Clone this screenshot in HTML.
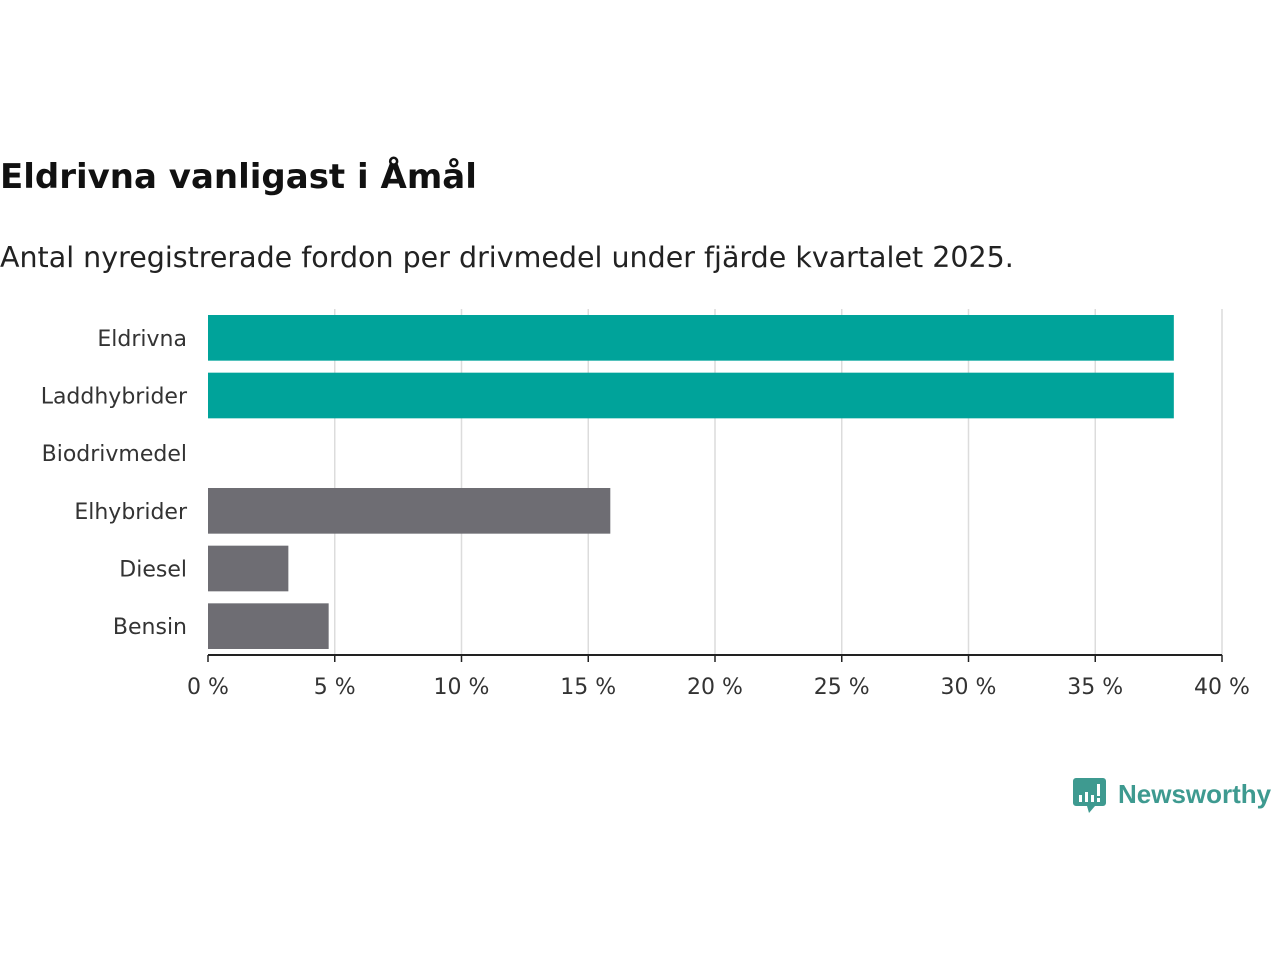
<!DOCTYPE html>
<html><head><meta charset="utf-8"><style>
body{margin:0;background:#fff;width:1280px;height:960px;overflow:hidden;font-family:"DejaVu Sans","Liberation Sans",sans-serif;}
</style></head><body>
<svg width="1280" height="960">
<text x="0" y="188" font-size="34" font-weight="bold" fill="#111">Eldrivna vanligast i Åmål</text>
<text x="0" y="267" font-size="28.5" fill="#222">Antal nyregistrerade fordon per drivmedel under fjärde kvartalet 2025.</text>
<g id="grid"></g>
<g id="bars"></g>
<g id="ylab"></g>
<g id="xax"></g>
<g transform="translate(1073,778)">
<path d="M0,3 a3,3 0 0 1 3,-3 h27 a3,3 0 0 1 3,3 v22 a3,3 0 0 1 -3,3 h-8 l-6,7 l-2,-7 h-11 a3,3 0 0 1 -3,-3z" fill="#3e9a90"/>
<rect x="6" y="17" width="3" height="7" fill="#fff"/><rect x="12" y="14" width="3" height="10" fill="#fff"/><rect x="18" y="17" width="3" height="7" fill="#fff"/><rect x="24" y="6" width="3" height="12" fill="#fff"/><rect x="24" y="20" width="3" height="4" fill="#fff"/>
<text x="45" y="25" font-size="26" fill="#3e9a90" font-family="Liberation Sans, sans-serif" font-weight="bold">Newsworthy</text>
</g>
</svg>
<script>
const categories=["Eldrivna","Laddhybrider","Biodrivmedel","Elhybrider","Diesel","Bensin"];
const values=[38.1,38.1,0,15.87,3.17,4.76];
const colors=["#00a39a","#00a39a","#00a39a","#6e6d73","#6e6d73","#6e6d73"];
const ticks=[0,5,10,15,20,25,30,35,40];
const tickLabels=["0 %","5 %","10 %","15 %","20 %","25 %","30 %","35 %","40 %"];
const NS="http://www.w3.org/2000/svg";
const x0=208,x1=1222,plotTop=309,plotBottom=655;
const xs=v=>x0+(v/40)*(x1-x0);
const step=(plotBottom-plotTop)/categories.length;
const ys=i=>plotTop+i*step;
function mk(t,a,p){const e=document.createElementNS(NS,t);for(const k in a)e.setAttribute(k,a[k]);p.appendChild(e);return e;}
const g=document.getElementById('grid'),b=document.getElementById('bars'),yl=document.getElementById('ylab'),xa=document.getElementById('xax');
ticks.forEach((t,i)=>{
 if(i>0){const l=mk('line',{x1:xs(t),x2:xs(t),y1:plotTop,y2:plotBottom,stroke:'#dcdcdc','stroke-width':1.5},g);
 
 }
 const tk=mk('line',{x1:xs(t),x2:xs(t),y1:plotBottom,y2:plotBottom+7,stroke:'#222','stroke-width':1.5},xa);
 
 
 const tx=mk('text',{x:xs(t),y:plotBottom+39,'font-size':22,fill:'#333','text-anchor':'middle'},xa);
 tx.textContent=tickLabels[i];
 
 
});
const ax=mk('line',{x1:x0,x2:x1,y1:plotBottom,y2:plotBottom,stroke:'#222','stroke-width':2},xa);


categories.forEach((c,i)=>{
 const y=ys(i);
 const r=mk('rect',{x:x0,y:y+6,width:Math.max(0,xs(values[i])-x0),height:step-12,fill:colors[i]},b);
 
 
 const t=mk('text',{x:187,y:y+step/2+8,'font-size':22,fill:'#333','text-anchor':'end'},yl);
 t.textContent=c;
 
 
});
</script>
</body></html>
